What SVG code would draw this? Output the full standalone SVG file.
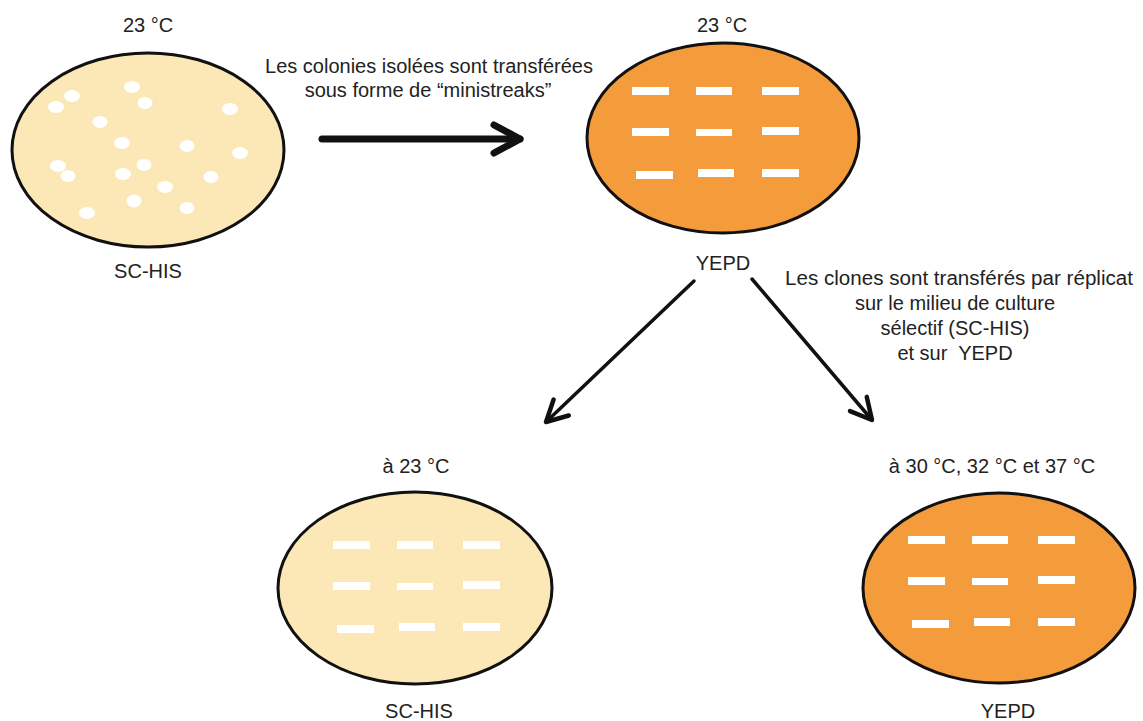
<svg xmlns="http://www.w3.org/2000/svg" width="1143" height="721" viewBox="0 0 1143 721">
<style>
.txt{font-family:"Liberation Sans",Arial,sans-serif;font-size:20px;fill:#222;text-anchor:middle}
.pale{fill:#FBE8B6;stroke:#111;stroke-width:3}
.orange{fill:#F49B3C;stroke:#111;stroke-width:3}
.streak{fill:#fff}
.col{fill:#fff}
.conn{stroke:#111;fill:none;stroke-linecap:round}
</style>
<defs>
<marker id="headBig" markerUnits="userSpaceOnUse" viewBox="0 0 36 36" markerWidth="36" markerHeight="36" refX="31" refY="18" orient="auto">
<path d="M5,4 L31,18 L5,32" fill="none" stroke="#111" stroke-width="7" stroke-linecap="round" stroke-linejoin="round"/>
</marker>
<marker id="headSmall" markerUnits="userSpaceOnUse" viewBox="0 0 28 28" markerWidth="28" markerHeight="28" refX="24" refY="14" orient="auto">
<path d="M3,3 L24,14 L3,25" fill="none" stroke="#111" stroke-width="4.5" stroke-linecap="round" stroke-linejoin="round"/>
</marker>
<g id="streaks">
<rect class="streak" x="-83" y="-4" width="37" height="8"/>
<rect class="streak" x="-19" y="-4" width="36" height="8"/>
<rect class="streak" x="47" y="-4" width="37" height="8"/>
<rect class="streak" x="-83" y="37" width="37" height="8"/>
<rect class="streak" x="-19" y="38" width="36" height="7"/>
<rect class="streak" x="47" y="36" width="37" height="8"/>
<rect class="streak" x="-79" y="80" width="37" height="8"/>
<rect class="streak" x="-17" y="78" width="36" height="8"/>
<rect class="streak" x="47" y="78" width="37" height="8"/>
</g>
</defs>
<rect width="1143" height="721" fill="#fff"/>

<g id="plate-schis-start">
<text class="txt" x="148" y="32">23 °C</text>
<ellipse class="pale" cx="148" cy="150" rx="136" ry="97"/>
<g>
<ellipse class="col" cx="132" cy="87" rx="8" ry="6"/>
<ellipse class="col" cx="72" cy="96" rx="8" ry="6"/>
<ellipse class="col" cx="56" cy="107" rx="8" ry="6"/>
<ellipse class="col" cx="145" cy="103" rx="7.5" ry="6"/>
<ellipse class="col" cx="230" cy="109" rx="8" ry="6"/>
<ellipse class="col" cx="100" cy="122" rx="7.5" ry="6"/>
<ellipse class="col" cx="122" cy="143" rx="8" ry="6"/>
<ellipse class="col" cx="187" cy="146" rx="7.5" ry="6"/>
<ellipse class="col" cx="240" cy="153" rx="8" ry="6"/>
<ellipse class="col" cx="58" cy="166" rx="8" ry="6"/>
<ellipse class="col" cx="68" cy="176" rx="7.5" ry="6"/>
<ellipse class="col" cx="144" cy="165" rx="7.5" ry="6"/>
<ellipse class="col" cx="123" cy="174" rx="8" ry="6"/>
<ellipse class="col" cx="211" cy="177" rx="7.5" ry="6"/>
<ellipse class="col" cx="165" cy="187" rx="8" ry="6"/>
<ellipse class="col" cx="134" cy="201" rx="7.5" ry="6.5"/>
<ellipse class="col" cx="187" cy="208" rx="7.5" ry="6"/>
<ellipse class="col" cx="87" cy="213" rx="8" ry="6"/>
</g>
<text class="txt" x="148" y="278">SC-HIS</text>
</g>

<g id="plate-yepd-start">
<text class="txt" x="722" y="32">23 °C</text>
<ellipse class="orange" cx="723" cy="138" rx="136" ry="95"/>
<use href="#streaks" x="715" y="91"/>
<text class="txt" x="723" y="270">YEPD</text>
</g>

<g id="plate-schis-end">
<text class="txt" x="416" y="473">à 23 °C</text>
<ellipse class="pale" cx="415" cy="588" rx="137" ry="96"/>
<use href="#streaks" x="416" y="545"/>
<text class="txt" x="419" y="718">SC-HIS</text>
</g>

<g id="plate-yepd-end">
<text class="txt" x="992" y="473">à 30 °C, 32 °C et 37 °C</text>
<ellipse class="orange" cx="999" cy="588" rx="136" ry="95"/>
<use href="#streaks" x="991" y="540"/>
<text class="txt" x="1008" y="718">YEPD</text>
</g>

<g id="labels">
<text class="txt" x="429" y="73">Les colonies isolées sont transférées</text>
<text class="txt" x="428" y="97">sous forme de “ministreaks”</text>
<text class="txt" x="959" y="285" textLength="348" lengthAdjust="spacingAndGlyphs">Les clones sont transférés par réplicat</text>
<text class="txt" x="955" y="310">sur le milieu de culture</text>
<text class="txt" x="955" y="335">sélectif (SC-HIS)</text>
<text class="txt" x="955" y="360">et sur&#160; YEPD</text>
</g>

<g id="connectors">
<line class="conn" x1="322" y1="139" x2="520" y2="139" stroke-width="7" marker-end="url(#headBig)"/>
<line class="conn" x1="694" y1="281" x2="546" y2="422" stroke-width="3.5" marker-end="url(#headSmall)"/>
<line class="conn" x1="752" y1="279" x2="872" y2="420" stroke-width="3.5" marker-end="url(#headSmall)"/>
</g>
</svg>
